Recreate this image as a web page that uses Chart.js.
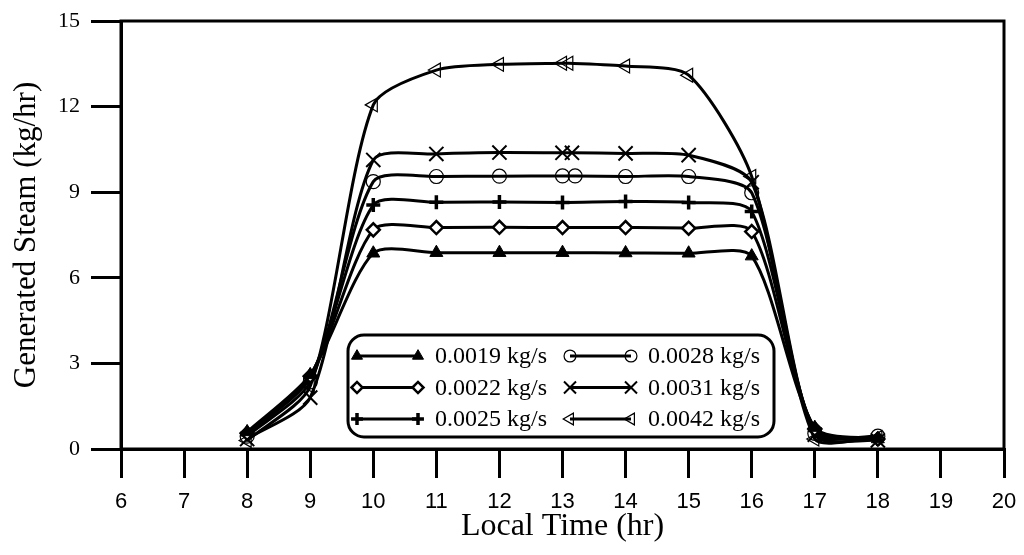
<!DOCTYPE html>
<html>
<head>
<meta charset="utf-8">
<script src="https://cdn.jsdelivr.net/npm/chart.js@4.4.0/dist/chart.umd.min.js"></script>
<style>
  html, body { margin: 0; padding: 0; background: #fff; }
  #wrap { width: 1024px; height: 555px; }
</style>
</head>
<body>
<div id="wrap"><canvas id="grafico" width="1024" height="555"></canvas></div>
<script>
// ---- dados ----
const horas = [8, 9, 10, 11, 12, 13, 14, 15, 16, 17, 18];
const horas0028 = [8, 9, 10, 11, 12, 13, 13.2, 14, 15, 16, 17, 18];
const horas0031 = [8, 9, 10, 11, 12, 13, 13.15, 14, 15, 16, 17, 18];
const horas0042 = [8, 9, 10, 11, 12, 13, 13.1, 14, 15, 16, 17, 18];

const vapor0019 = [0.6, 2.6, 6.86, 6.88, 6.88, 6.88, 6.87, 6.86, 6.76, 0.75, 0.35];
const vapor0022 = [0.55, 2.55, 7.68, 7.76, 7.77, 7.76, 7.76, 7.74, 7.62, 0.7, 0.35];
const vapor0025 = [0.5, 2.5, 8.55, 8.65, 8.66, 8.64, 8.67, 8.64, 8.32, 0.65, 0.35];
const vapor0028 = [0.45, 2.35, 9.37, 9.55, 9.56, 9.57, 9.57, 9.55, 9.55, 8.98, 0.55, 0.45];
const vapor0031 = [0.35, 1.8, 10.13, 10.34, 10.39, 10.38, 10.38, 10.36, 10.3, 9.35, 0.5, 0.3];
const vapor0042 = [0.3, 2.2, 12.06, 13.28, 13.48, 13.52, 13.52, 13.42, 13.1, 9.55, 0.35, 0.4];

const ticksX = [6, 7, 8, 9, 10, 11, 12, 13, 14, 15, 16, 17, 18, 19, 20];
const ticksY = [0, 3, 6, 9, 12, 15];

const SERIF = "'Liberation Serif', 'Times New Roman', serif";
const SANS = "'Liberation Sans', Arial, sans-serif";

function serie(label, xs, ys, estilo) {
    return Object.assign({
        label: label,
        data: xs.map((h, i) => ({ x: h, y: ys[i] })),
        borderColor: '#000',
        borderWidth: 3,
        pointBorderColor: '#000',
        pointBackgroundColor: '#fff',
        fill: false,
        tension: 0.25
    }, estilo);
}

const datasets = [
    serie('0.0019 kg/s', horas, vapor0019, { pointStyle: 'triangle', pointRadius: 7.5, pointBorderWidth: 1, pointBackgroundColor: '#000' }),
    serie('0.0022 kg/s', horas, vapor0022, { pointStyle: 'rectRot', pointRadius: 6.5, pointBorderWidth: 2.5 }),
    serie('0.0025 kg/s', horas, vapor0025, { pointStyle: 'cross', pointRadius: 7, pointBorderWidth: 3.5 }),
    serie('0.0028 kg/s', horas0028, vapor0028, { pointStyle: 'circle', pointRadius: 7, pointBorderWidth: 1.2, pointBackgroundColor: 'rgba(0,0,0,0)' }),
    serie('0.0031 kg/s', horas0031, vapor0031, { pointStyle: 'crossRot', pointRadius: 10, pointBorderWidth: 2 }),
    serie('0.0042 kg/s', horas0042, vapor0042, { pointStyle: 'triangle', pointRotation: -90, pointRadius: 8, pointBorderWidth: 1.2, pointBackgroundColor: 'rgba(0,0,0,0)' })
];

// moldura (topo e direita)
const molduraPlugin = {
    id: 'moldura',
    afterDatasetsDraw(chart) {
        const { ctx, chartArea: a } = chart;
        ctx.save();
        ctx.strokeStyle = '#000';
        ctx.lineWidth = 3;
        ctx.strokeRect(a.left, a.top, a.right - a.left, a.bottom - a.top);
        ctx.restore();
    }
};

// legenda em caixa arredondada, 2 colunas
const legendaPlugin = {
    id: 'legenda',
    afterDatasetsDraw(chart) {
        const ctx = chart.ctx;
        ctx.save();
        ctx.beginPath();
        ctx.roundRect(348, 335, 426, 102, 16);
        ctx.fillStyle = '#fff';
        ctx.fill();
        ctx.lineWidth = 3;
        ctx.strokeStyle = '#000';
        ctx.stroke();

        chart.data.datasets.forEach((ds, i) => {
            const col = Math.floor(i / 3), row = i % 3;
            const x0 = 357 + col * 213, x1 = x0 + 61, y = 356 + row * 31.5;
            ctx.strokeStyle = '#000';
            ctx.lineWidth = 3;
            ctx.beginPath();
            ctx.moveTo(x0, y);
            ctx.lineTo(x1, y);
            ctx.stroke();
            const opts = {
                pointStyle: ds.pointStyle,
                rotation: ds.pointRotation || 0,
                radius: ds.pointRadius * 0.85,
                borderWidth: ds.pointBorderWidth
            };
            [x0, x1].forEach(px => {
                ctx.fillStyle = ds.pointBackgroundColor;
                ctx.strokeStyle = '#000';
                ctx.lineWidth = ds.pointBorderWidth;
                Chart.helpers.drawPoint(ctx, opts, px, y);
            });
            ctx.fillStyle = '#000';
            ctx.font = '24px ' + SERIF;
            ctx.textBaseline = 'middle';
            ctx.textAlign = 'left';
            ctx.fillText(ds.label, x1 + 17, y + 1);
        });
        ctx.restore();
    }
};

const ctx = document.getElementById('grafico');
new Chart(ctx, {
    type: 'line',
    data: { datasets: datasets },
    options: {
        responsive: false,
        animation: false,
        devicePixelRatio: 1,
        layout: { padding: { top: 21, right: 20, left: 0, bottom: 0 } },
        plugins: { legend: { display: false }, tooltip: { enabled: false } },
        scales: {
            x: {
                type: 'linear',
                min: 6, max: 20,
                afterBuildTicks: s => { s.ticks = ticksX.map(v => ({ value: v })); },
                afterFit: s => { s.height = 106; s.paddingLeft = 0; s.paddingRight = 0; },
                border: { display: true, color: '#000', width: 3 },
                grid: { drawOnChartArea: false, drawTicks: true, tickLength: 29, lineWidth: 3, color: '#000' },
                ticks: { color: '#000', font: { family: SANS, size: 22 }, padding: 11, maxRotation: 0 },
                title: { display: true, text: 'Local Time (hr)', color: '#000', font: { family: SERIF, size: 32 }, padding: { top: 0, bottom: 9 } }
            },
            y: {
                min: 0, max: 15,
                afterBuildTicks: s => { s.ticks = ticksY.map(v => ({ value: v })); },
                afterFit: s => { s.width = 121; s.paddingTop = 0; s.paddingBottom = 0; },
                border: { display: true, color: '#000', width: 3 },
                grid: { drawOnChartArea: false, drawTicks: true, tickLength: 30, lineWidth: 3, color: '#000' },
                ticks: { color: '#000', font: { family: SERIF, size: 22 }, padding: 11 },
                title: { display: true, text: 'Generated Steam (kg/hr)', color: '#000', font: { family: SERIF, size: 31 }, padding: { top: 8, bottom: 0 } }
            }
        }
    },
    plugins: [molduraPlugin, legendaPlugin]
});
</script>
</body>
</html>
